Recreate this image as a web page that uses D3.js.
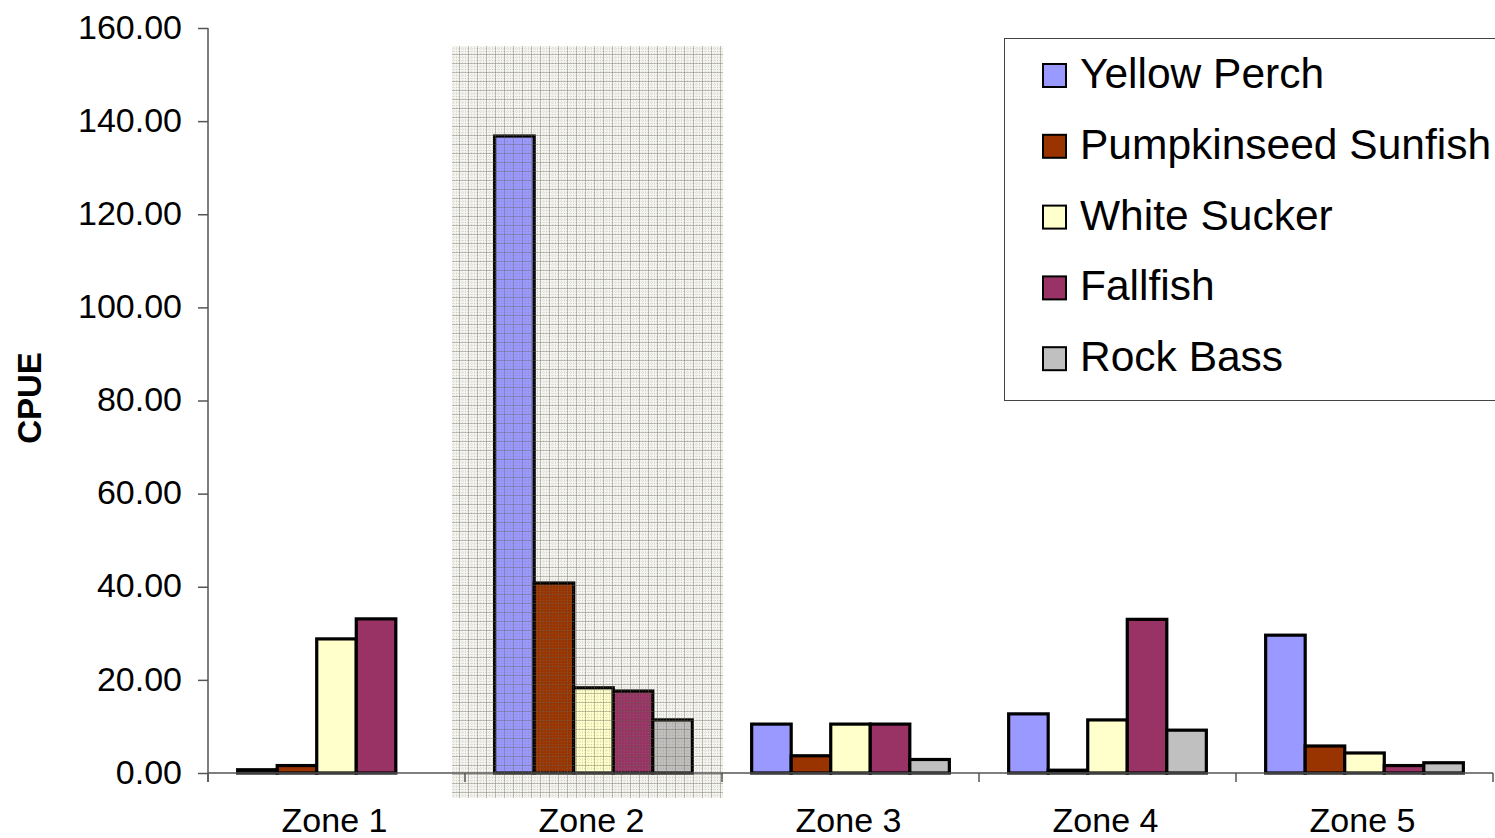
<!DOCTYPE html>
<html>
<head>
<meta charset="utf-8">
<script src="https://cdn.jsdelivr.net/npm/d3@7"></script>
<style>
  html, body { margin: 0; padding: 0; background: #fff; }
  svg { display: block; font-family: "Liberation Sans", Arial, sans-serif; }
</style>
</head>
<body>
<svg id="chart" width="1495" height="838"></svg>
<script>
// Catch per unit effort by zone and species
const zones = ["Zone 1", "Zone 2", "Zone 3", "Zone 4", "Zone 5"];
const species = ["Yellow Perch", "Pumpkinseed Sunfish", "White Sucker", "Fallfish", "Rock Bass"];
const yellowPerch   = [0.7, 136.8, 10.5, 12.7, 29.6];
const pumpkinseed   = [1.6, 40.8, 3.7, 0.6, 5.8];
const whiteSucker   = [28.8, 18.3, 10.5, 11.4, 4.3];
const fallfish      = [33.1, 17.6, 10.5, 33.0, 1.6];
const rockBass      = [0, 11.4, 2.9, 9.2, 2.2];
const yTicks = [0, 20, 40, 60, 80, 100, 120, 140, 160];
const highlightedZone = "Zone 2";

const seriesValues = [yellowPerch, pumpkinseed, whiteSucker, fallfish, rockBass];
const colors = ["#9999FF", "#993300", "#FFFFCC", "#993366", "#C0C0C0"];

const svg = d3.select("#chart");
const plotLeft = 208, plotRight = 1493, plotTop = 28, plotBottom = 773;

const x = d3.scaleBand().domain(zones).range([plotLeft, plotRight]);
// Excel-style gap width of 150% between groups
const barW = x.bandwidth() / (species.length + 1.5);
const x1 = d3.scaleBand().domain(species)
  .range([0, barW * species.length]);
const groupOffset = (x.bandwidth() - barW * species.length) / 2;
const y = d3.scaleLinear().domain([0, 160]).range([plotBottom, plotTop]);

// Hatched backdrop behind the highlighted zone
const defs = svg.append("defs");
const pat = defs.append("pattern")
  .attr("id", "grid").attr("patternUnits", "userSpaceOnUse")
  .attr("width", 9).attr("height", 9);
pat.append("path").attr("d", "M0,0.5H9 M0.5,0V9")
  .attr("stroke", "rgba(100,95,75,0.38)").attr("stroke-width", 1);
pat.append("path").attr("d", "M0,3.5H9 M0,6.5H9 M3.5,0V9 M6.5,0V9")
  .attr("stroke", "rgba(130,125,105,0.2)").attr("stroke-width", 1)
  .attr("stroke-dasharray", "1,1");

const hx0 = x(highlightedZone) - 13;
const hx1 = x(highlightedZone) + x.bandwidth() + 1;
svg.append("rect")
  .attr("x", hx0).attr("y", 46)
  .attr("width", hx1 - hx0).attr("height", 752)
  .attr("fill", "#f4f4f1");

// Bars
zones.forEach((z, zi) => {
  species.forEach((s, si) => {
    const v = seriesValues[si][zi];
    if (v <= 0) return;
    svg.append("rect")
      .attr("x", x(z) + groupOffset + x1(s))
      .attr("y", y(v))
      .attr("width", x1.bandwidth())
      .attr("height", y(0) - y(v))
      .attr("fill", colors[si])
      .attr("stroke", "#000")
      .attr("stroke-width", 3.2);
  });
});

// Texture over the highlighted zone
svg.append("rect")
  .attr("x", hx0).attr("y", 46)
  .attr("width", hx1 - hx0).attr("height", 752)
  .attr("fill", "url(#grid)");

// Axes
const axisColor = "#555";
const yAxis = svg.append("g")
  .attr("transform", `translate(${plotLeft},0)`)
  .call(d3.axisLeft(y).tickValues(yTicks).tickSize(10).tickPadding(16)
    .tickFormat(d3.format(".2f")));
yAxis.select(".domain").remove();
yAxis.selectAll(".tick line").attr("stroke", axisColor).attr("stroke-width", 1.5);
yAxis.selectAll(".tick text")
  .attr("font-size", 34).attr("fill", "#000")
  .attr("font-family", "Liberation Sans, Arial, sans-serif")
  .attr("dy", "0.3em");

svg.append("line")
  .attr("x1", plotLeft).attr("x2", plotLeft)
  .attr("y1", plotTop).attr("y2", plotBottom + 9)
  .attr("stroke", axisColor).attr("stroke-width", 1.5);

svg.append("line")
  .attr("x1", plotLeft).attr("x2", plotRight)
  .attr("y1", plotBottom).attr("y2", plotBottom)
  .attr("stroke", axisColor).attr("stroke-width", 1.5);

// Category separators on the x axis
const boundaries = zones.map(z => x(z)).concat([plotRight]);
svg.selectAll(".xtick").data(boundaries).enter().append("line")
  .attr("x1", d => d).attr("x2", d => d)
  .attr("y1", plotBottom).attr("y2", plotBottom + 9)
  .attr("stroke", axisColor).attr("stroke-width", 1.5);

svg.selectAll(".xlabel").data(zones).enter().append("text")
  .attr("x", d => x(d) + x.bandwidth() / 2 - 2)
  .attr("y", 832)
  .attr("text-anchor", "middle")
  .attr("font-size", 34)
  .text(d => d);

// Y axis title
svg.append("text")
  .attr("transform", "translate(41,398) rotate(-90)")
  .attr("text-anchor", "middle")
  .attr("font-size", 33)
  .attr("font-weight", "bold")
  .text("CPUE");

// Legend
const lg = svg.append("g");
lg.append("rect")
  .attr("x", 1004.5).attr("y", 38.5)
  .attr("width", 520).attr("height", 362)
  .attr("fill", "#fff")
  .attr("stroke", "#444").attr("stroke-width", 1);
species.forEach((s, i) => {
  const base = 88 + i * 70.8;
  lg.append("rect")
    .attr("x", 1043).attr("y", base - 24)
    .attr("width", 23).attr("height", 23)
    .attr("fill", colors[i])
    .attr("stroke", "#000").attr("stroke-width", 2);
  lg.append("text")
    .attr("x", 1080).attr("y", base)
    .attr("font-size", 42.5)
    .text(s);
});
</script>
</body>
</html>
